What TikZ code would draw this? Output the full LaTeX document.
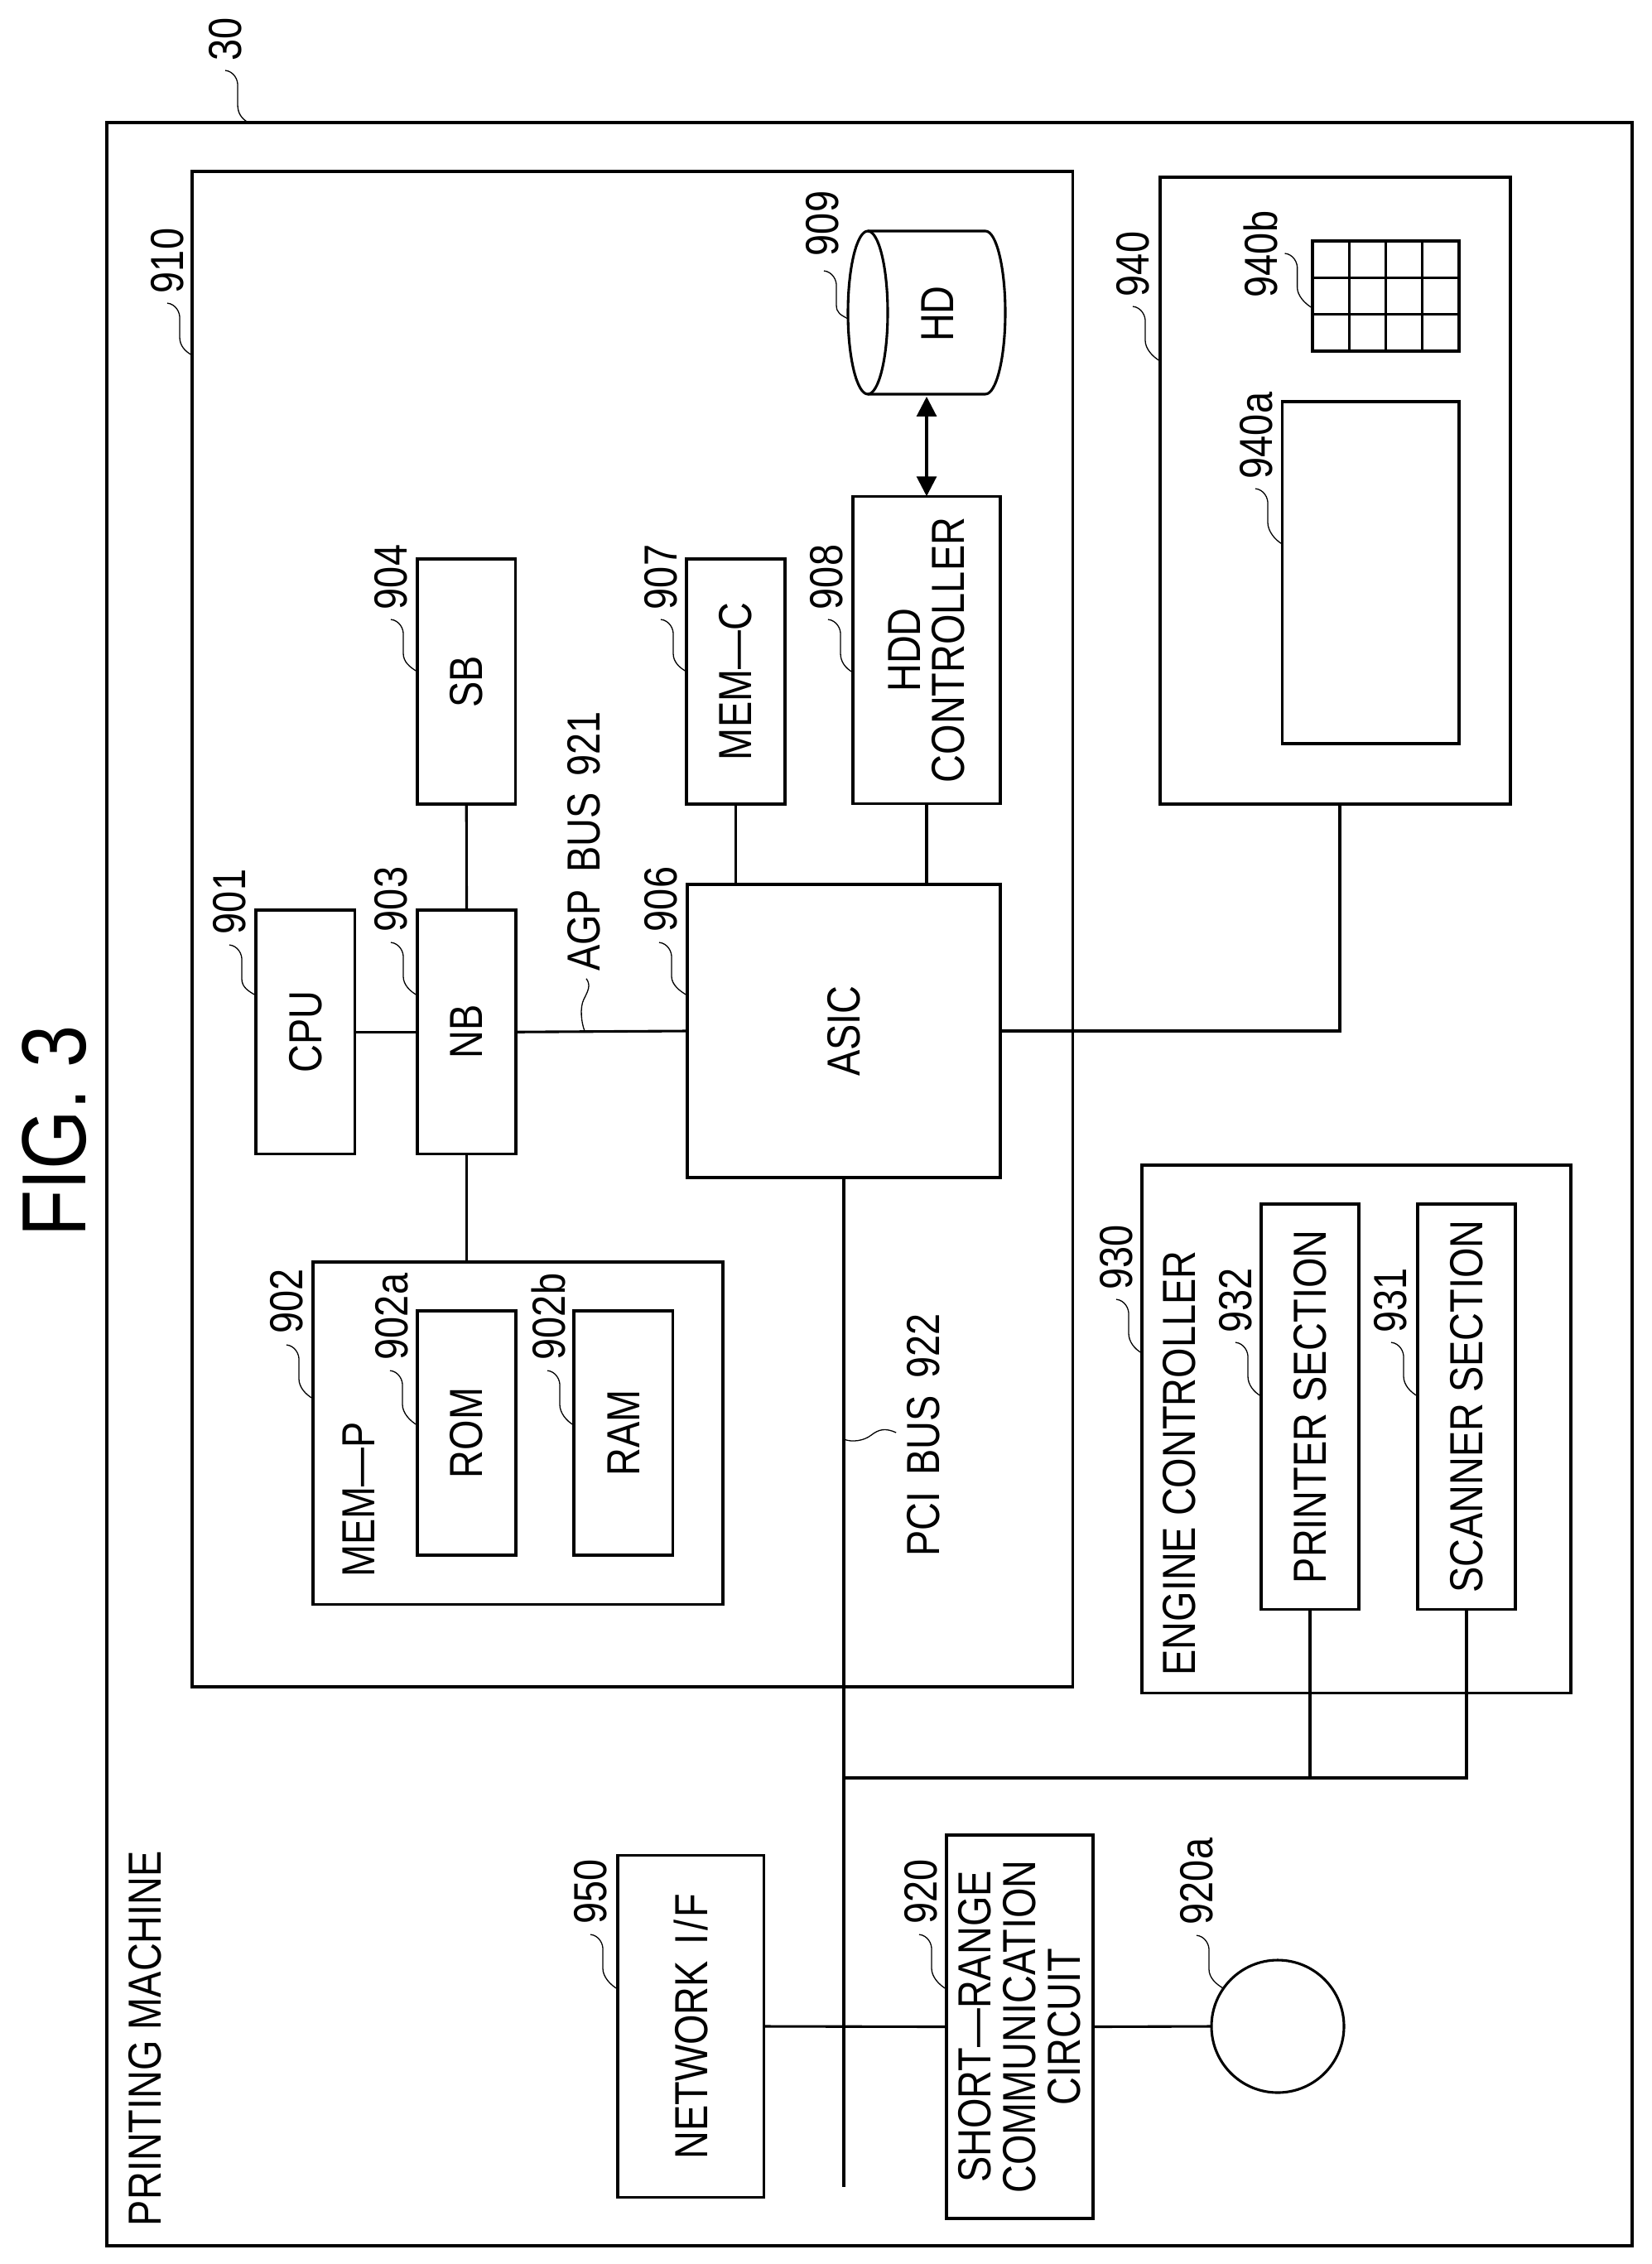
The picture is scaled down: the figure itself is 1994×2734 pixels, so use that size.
\documentclass[tikz,border=0pt]{standalone}
\usepackage{fontspec}
\setmainfont{Liberation Sans}[FakeStretch=0.836]
\usepackage{tikz}
\usetikzlibrary{arrows.meta,calc}
\newcommand{\pxu}{0.02cm}
\newcommand{\wsp}{\ \kern4pt}
\newcommand{\leadline}[2]{\draw[leader] (#1) .. controls +(10,1) and +(1,-9) .. ++(15,20) -- ++(0,21) .. controls +(0,10) and +(-9,-5) .. (#2);}
\begin{document}
\begin{tikzpicture}[x=0.02cm,y=-0.02cm]
	\tikzset{box/.style 2 args={draw,rotate=90,align=center,line width=0.062cm,inner sep=0pt,outer sep=0pt,minimum width=#1*\pxu,minimum height=#2*\pxu}}
	\tikzstyle{every node}+=[font=\fontsize{31.9}{30.7}\selectfont]
	\tikzstyle{wire}=[line width=0.062cm]
	\tikzstyle{leader}=[line width=0.026cm]
	\tikzstyle{tag}=[rotate=90,inner sep=0pt,outer sep=0pt]
	\useasboundingbox (0,0) rectangle (1994,2734);
	\node (title) [tag,font=\fontsize{62.6}{70}\selectfont] at (66,1366) {FIG. 3};
	\node (frame) [box={2564}{1842}] at (1050,1430) {};
	\node (main) [box={1830}{1063.5}] at (763.75,1122) {};
	\node (ui) [box={757}{423}] at (1612.5,592.5) {};
	\node (screen) [box={413}{213.5}] at (1655.25,691.5) {};
	\node (keypad) [box={133}{177}] at (1673.5,357.5) {};
	\node (hd) [inner sep=0pt,outer sep=0pt,minimum width=190*\pxu,minimum height=197*\pxu] at (1119,377.5) {};
	\draw [wire] ($(hd.north west)+(24,0)$) -- ($(hd.north east)+(-24,0)$) arc[start angle=90,end angle=-90,x radius=0.48cm,y radius=1.97cm] -- ($(hd.south west)+(24,0)$);
	\draw [wire] ($(hd.west)+(24,0)$) ellipse[x radius=0.48cm,y radius=1.97cm];
	\node (hdtext) [tag] at (1132,379) {HD};
	\node (hdd) [box={371.5}{178}] at (1119,785) {HDD\\CONTROLLER};
	\node (sb) [box={296}{118.5}] at (563.25,823) {SB};
	\node (memc) [box={296}{119}] at (888.5,823) {MEM—C};
	\node (cpu) [box={294.5}{119.5}] at (368.75,1246.25) {CPU};
	\node (nb) [box={294.5}{119}] at (563.5,1246.25) {NB};
	\node (asic) [box={354}{378}] at (1019,1245) {ASIC};
	\node (memp) [box={413.5}{495}] at (625.5,1730.75) {};
	\node (memptext) [tag] at (433,1811) {MEM—P};
	\node (rom) [box={295}{119}] at (563.5,1730.5) {ROM};
	\node (ram) [box={295}{119.5}] at (752.75,1730.5) {RAM};
	\node (eng) [box={637.5}{518}] at (1638,1725.75) {};
	\node (engtext) [tag] at (1424,1767) {ENGINE CONTROLLER};
	\node (prt) [box={489.5}{118}] at (1582,1698.75) {PRINTER SECTION};
	\node (scan) [box={489.5}{118}] at (1771,1698.75) {SCANNER SECTION};
	\node (nic) [box={413}{176.5}] at (834.25,2447) {NETWORK\wsp I\kern2pt/\kern2pt F};
	\node (sr) [box={463}{177}] at (1231.5,2447.5) {SHORT—RANGE\\COMMUNICATION\\CIRCUIT};
	\node (ant) [draw,circle,line width=0.062cm,inner sep=0pt,outer sep=0pt,minimum size=160*\pxu] at (1543,2447) {};
	\node (machine) [tag] at (175,2461.5) {PRINTING MACHINE};
	\node (agp) [tag] at (705,1016) {AGP\wsp BUS\wsp 921};
	\node (pci) [tag] at (1115,1733) {PCI\wsp BUS\wsp 922};
	\foreach \i in {1,2,3}
		\draw [wire] ({1585+\i*44.25},291) -- ({1585+\i*44.25},424);
	\foreach \i in {1,2}
		\draw [wire] (1585,{291+\i*44.33}) -- (1762,{291+\i*44.33});
	\draw [wire] (cpu.south) -- (nb.north);
	\draw [wire] (nb.south) -- (asic.north);
	\draw [wire] (sb.west) -- (nb.east);
	\draw [wire] (nb.west) -- (nb.west |- memp.east);
	\draw [wire] (memc.west) -- (memc.west |- asic.east);
	\draw [wire] (hdd.west) -- (hdd.west |- asic.east);
	\draw [wire,{Triangle[length=0.48cm,width=0.48cm]}-{Triangle[length=0.48cm,width=0.48cm]},shorten <=3*\pxu] (hd.south) -- (hdd.east);
	\draw [wire] (asic.south) -| (1618,0 |- ui.west);
	\coordinate (busend) at (asic.west |- 0,2641);
	\coordinate (tap) at (asic.west |- 0,2147);
	\draw [wire] (asic.west) -- (busend);
	\draw [wire] (tap) -| (scan.west);
	\draw [wire] (prt.west) -- (prt.west |- tap);
	\draw [wire] (nic.south) -- (sr.north);
	\draw [wire] (sr.south) -- (ant.west);
	\node (n30) [tag] at (272,47) {30};
	\node (n910) [tag] at (202,315) {910};
	\node (n904) [tag] at (472,697) {904};
	\node (n907) [tag] at (798,697) {907};
	\node (n909) [tag] at (993,270) {909};
	\node (n908) [tag] at (998,697) {908};
	\node (n940) [tag] at (1368,319) {940};
	\node (n940b) [tag] at (1522,307) {940b};
	\node (n940a) [tag] at (1517,526) {940a};
	\node (n901) [tag] at (277,1089) {901};
	\node (n903) [tag] at (472,1086) {903};
	\node (n906) [tag] at (798,1086) {906};
	\node (n902) [tag] at (346,1571) {902};
	\node (n902a) [tag] at (473,1590) {902a};
	\node (n902b) [tag] at (662,1590) {902b};
	\node (n930) [tag] at (1348,1518) {930};
	\node (n932) [tag] at (1492,1570) {932};
	\node (n931) [tag] at (1679,1570) {931};
	\node (n950) [tag] at (713,2284) {950};
	\node (n920) [tag] at (1112,2284) {920};
	\node (n920a) [tag] at (1445,2272) {920a};
	\leadline{$(n30.west)+(0,12)$}{frame.east -| 300,0}
	\leadline{$(n910.west)+(0,12)$}{main.north |- 0,429}
	\leadline{$(n904.west)+(0,12)$}{sb.north |- 0,811}
	\leadline{$(n907.west)+(0,12)$}{memc.north |- 0,811}
	\leadline{$(n909.west)+(2,18)$}{hd.west |- 0,385}
	\leadline{$(n908.west)+(2,12)$}{hdd.north |- 0,812}
	\leadline{$(n940.west)+(0,12)$}{ui.north |- 0,436}
	\leadline{$(n940b.south)+(9,-1)$}{keypad.north |- 0,372}
	\leadline{$(n940a.west)+(-1,12)$}{screen.north |- 0,657}
	\leadline{$(n901.west)+(0,13)$}{cpu.north |- 0,1202}
	\leadline{$(n903.west)+(0,13)$}{nb.north |- 0,1202}
	\leadline{$(n906.west)+(-2,13)$}{asic.north |- 0,1202}
	\leadline{$(n902.west)+(0,14)$}{memp.north |- 0,1689}
	\leadline{$(n902a.west)+(-2,13)$}{rom.north |- 0,1721}
	\leadline{$(n902b.west)+(-1,13)$}{ram.north |- 0,1721}
	\leadline{$(n930.west)+(0,12)$}{eng.north |- 0,1634}
	\leadline{$(n932.west)+(0,12)$}{prt.north |- 0,1686}
	\leadline{$(n931.west)+(1,12)$}{scan.north |- 0,1686}
	\leadline{$(n950.west)+(0,13)$}{nic.north |- 0,2402}
	\leadline{$(n920.west)+(-2,13)$}{sr.north |- 0,2402}
	\leadline{$(n920a.west)+(0,13)$}{ant.145}
	\draw [leader] ($(agp.west)+(3,9)$) .. controls +(6,8) and +(5,-10) .. ++(-3,25) .. controls +(-5,10) and +(-4,-10) .. (706,0 |- asic.north);
	\draw [leader] ($(pci.north)+(-13,-3)$) .. controls +(-13,-6) and +(9,-7) .. ++(-30,3) .. controls +(-9,7) and +(10,4) .. (asic.west |- 0,1738);
\end{tikzpicture}
\end{document}
